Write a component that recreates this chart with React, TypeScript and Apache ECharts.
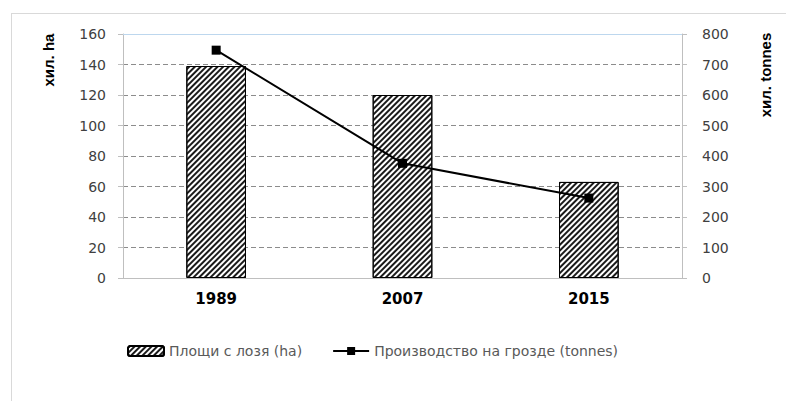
import React, { useEffect, useRef } from "react";
import * as echarts from "echarts";

const categories = ["1989", "2007", "2015"];
const areaHa = [139, 120, 63];
const productionTonnes = [747, 376, 262];
const leftTicks = { min: 0, max: 160, interval: 20 };
const rightTicks = { min: 0, max: 800, interval: 100 };
const seriesNames = ["Площи с лозя (ha)", "Производство на грозде (tonnes)"];
const axisNames = ["хил. ha", "хил. tonnes"];

export default function App() {
  const ref = useRef<HTMLDivElement>(null);
  useEffect(() => {
    document.body.style.margin = "0";
    const chart = echarts.init(ref.current!, null, { renderer: "svg" });
    const font = "DejaVu Sans";
    chart.setOption({
      animation: false,
      backgroundColor: "#ffffff",
      textStyle: { fontFamily: font },
      grid: { left: 123, right: 104, top: 34, bottom: 125, containLabel: false },
      legend: {
        left: 122,
        top: 339,
        itemWidth: 36,
        itemHeight: 10,
        itemGap: 30,
        textStyle: { fontSize: 14, color: "#595959", fontFamily: font },
        data: [seriesNames[0], seriesNames[1]],
      },
      xAxis: [
        {
          type: "category",
          data: categories,
          axisLine: { lineStyle: { color: "#bfbfbf", width: 1 } },
          axisTick: { show: false },
          axisLabel: { fontSize: 15, fontWeight: "bold", color: "#000000", margin: 13, fontFamily: font },
        },
        {
          type: "category",
          position: "top",
          data: categories,
          axisLine: { show: true, onZero: false, lineStyle: { color: "#bdd7ee", width: 1 } },
          axisTick: { show: false },
          axisLabel: { show: false },
        },
      ],
      yAxis: [
        {
          type: "value",
          ...leftTicks,
          axisLine: { show: true, lineStyle: { color: "#bfbfbf" } },
          axisTick: { show: true, length: 5, lineStyle: { color: "#bfbfbf" } },
          axisLabel: { fontSize: 14, color: "#404040", margin: 17, fontFamily: font },
          splitLine: { show: true, lineStyle: { color: "#8c8c8c", type: [5, 3], width: 1 } },
        },
        {
          type: "value",
          ...rightTicks,
          position: "right",
          axisLine: { show: true, lineStyle: { color: "#bfbfbf" } },
          axisTick: { show: true, length: 5, lineStyle: { color: "#bfbfbf" } },
          axisLabel: { fontSize: 14, color: "#404040", margin: 20, fontFamily: font },
          splitLine: { show: false },
        },
      ],
      series: [
        {
          name: seriesNames[0],
          type: "bar",
          data: areaHa,
          barWidth: "32%",
          itemStyle: {
            color: "#ffffff",
            borderColor: "#000000",
            borderWidth: 1,
            decal: {
              symbol: "rect",
              symbolSize: 1,
              dashArrayX: [1, 0],
              dashArrayY: [1.2, 2],
              rotation: -Math.PI / 4,
              color: "#1a1a1a",
              backgroundColor: "#ffffff",
            },
          },
        },
        {
          name: seriesNames[1],
          type: "line",
          yAxisIndex: 1,
          data: productionTonnes,
          symbol: "rect",
          symbolSize: 9,
          lineStyle: { color: "#000000", width: 2 },
          itemStyle: { color: "#000000" },
        },
      ],
      graphic: [
        { type: "line", shape: { x1: 11, y1: 13.5, x2: 786, y2: 13.5 }, style: { stroke: "#d9d9d9", lineWidth: 1 } },
        { type: "line", shape: { x1: 11.5, y1: 13, x2: 11.5, y2: 401 }, style: { stroke: "#d9d9d9", lineWidth: 1 } },
        {
          type: "text",
          x: 48,
          y: 60,
          rotation: Math.PI / 2,
          style: {
            text: axisNames[0],
            font: "bold 15px 'Liberation Sans'",
            fill: "#000000",
            align: "center",
            verticalAlign: "middle",
          },
        },
        {
          type: "text",
          x: 765,
          y: 75,
          rotation: Math.PI / 2,
          style: {
            text: axisNames[1],
            font: "bold 15px 'Liberation Sans'",
            fill: "#000000",
            align: "center",
            verticalAlign: "middle",
          },
        },
      ],
    });
    return () => chart.dispose();
  }, []);
  return <div ref={ref} style={{ width: 786, height: 403 }} />;
}
